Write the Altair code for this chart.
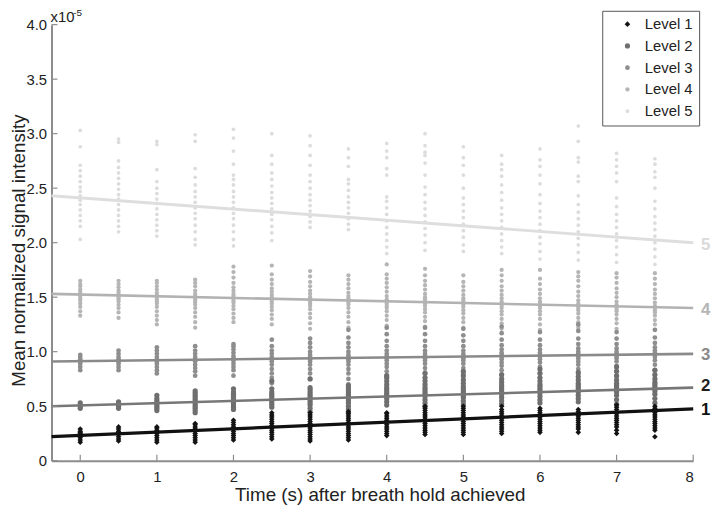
import altair as alt
import pandas as pd

# time points (s)
times = [0.0, 0.5, 1.0, 1.5, 2.0, 2.5, 3.0, 3.5, 4.0, 4.5, 5.0, 5.5, 6.0, 6.5, 7.0, 7.5]

# mean normalized signal intensity (x1e-5), one list per time point
level1 = [
    [0.17, 0.19, 0.21, 0.22, 0.23, 0.24, 0.25, 0.26, 0.27, 0.29],
    [0.18, 0.20, 0.22, 0.24, 0.25, 0.26, 0.27, 0.29, 0.31],
    [0.17, 0.19, 0.21, 0.23, 0.25, 0.26, 0.27, 0.28, 0.30, 0.31],
    [0.17, 0.19, 0.21, 0.23, 0.25, 0.27, 0.28, 0.29, 0.31, 0.33, 0.34],
    [0.19, 0.21, 0.23, 0.25, 0.27, 0.29, 0.30, 0.31, 0.33, 0.35, 0.37],
    [0.20, 0.22, 0.24, 0.26, 0.28, 0.30, 0.31, 0.32, 0.34, 0.36, 0.38, 0.40, 0.42, 0.44],
    [0.18, 0.20, 0.22, 0.24, 0.26, 0.28, 0.30, 0.32, 0.33, 0.34, 0.36, 0.38, 0.40, 0.42, 0.44],
    [0.19, 0.21, 0.23, 0.25, 0.27, 0.29, 0.31, 0.33, 0.34, 0.35, 0.37, 0.39, 0.41, 0.43, 0.45],
    [0.23, 0.25, 0.27, 0.29, 0.31, 0.33, 0.35, 0.36, 0.37, 0.39, 0.41, 0.43, 0.44],
    [0.24, 0.26, 0.28, 0.30, 0.32, 0.34, 0.36, 0.37, 0.38, 0.40, 0.42, 0.44, 0.46, 0.48, 0.50],
    [0.24, 0.26, 0.28, 0.30, 0.32, 0.34, 0.36, 0.38, 0.39, 0.40, 0.42, 0.44, 0.46, 0.48, 0.50],
    [0.25, 0.27, 0.29, 0.31, 0.33, 0.35, 0.37, 0.39, 0.40, 0.41, 0.43, 0.45, 0.47, 0.50],
    [0.26, 0.28, 0.30, 0.32, 0.34, 0.36, 0.38, 0.40, 0.41, 0.42, 0.44, 0.46, 0.48],
    [0.26, 0.29, 0.31, 0.33, 0.35, 0.37, 0.39, 0.41, 0.42, 0.43, 0.45, 0.47],
    [0.25, 0.28, 0.31, 0.33, 0.35, 0.37, 0.39, 0.41, 0.43, 0.44, 0.45, 0.47, 0.49, 0.51],
    [0.22, 0.28, 0.30, 0.32, 0.34, 0.36, 0.38, 0.40, 0.42, 0.44, 0.45, 0.46, 0.48, 0.50],
]
level2 = [
    [0.48, 0.50, 0.51, 0.53],
    [0.48, 0.50, 0.51, 0.52, 0.54],
    [0.46, 0.48, 0.50, 0.52, 0.53, 0.55, 0.57, 0.60],
    [0.44, 0.46, 0.48, 0.50, 0.52, 0.54, 0.56, 0.58, 0.60, 0.62, 0.64],
    [0.47, 0.49, 0.51, 0.53, 0.55, 0.57, 0.59, 0.61, 0.63, 0.66],
    [0.49, 0.51, 0.53, 0.55, 0.57, 0.59, 0.61, 0.63, 0.66, 0.73],
    [0.45, 0.48, 0.51, 0.53, 0.55, 0.57, 0.59, 0.61, 0.63, 0.65, 0.67, 0.75],
    [0.44, 0.47, 0.50, 0.53, 0.55, 0.57, 0.59, 0.61, 0.63, 0.65, 0.67, 0.69],
    [0.51, 0.54, 0.57, 0.59, 0.61, 0.63, 0.65, 0.67, 0.70, 0.73, 0.76, 0.78],
    [0.50, 0.53, 0.56, 0.59, 0.61, 0.63, 0.65, 0.67, 0.70, 0.73, 0.76, 0.80],
    [0.52, 0.55, 0.58, 0.60, 0.62, 0.64, 0.66, 0.68, 0.71, 0.74, 0.78, 0.82],
    [0.52, 0.55, 0.58, 0.61, 0.63, 0.65, 0.67, 0.69, 0.72, 0.75, 0.79],
    [0.53, 0.56, 0.59, 0.62, 0.64, 0.66, 0.68, 0.70, 0.73, 0.76, 0.80, 0.84],
    [0.54, 0.57, 0.60, 0.63, 0.65, 0.67, 0.69, 0.71, 0.74, 0.77, 0.81],
    [0.52, 0.56, 0.60, 0.63, 0.65, 0.67, 0.69, 0.71, 0.74, 0.78, 0.82, 0.86],
    [0.53, 0.57, 0.61, 0.64, 0.66, 0.68, 0.70, 0.72, 0.75, 0.79, 0.83],
]
level3 = [
    [0.83, 0.86, 0.89, 0.91, 0.93, 0.95, 0.97],
    [0.83, 0.86, 0.89, 0.91, 0.93, 0.95, 0.98, 1.01],
    [0.80, 0.83, 0.86, 0.89, 0.91, 0.93, 0.95, 0.98, 1.01, 1.04],
    [0.78, 0.82, 0.85, 0.88, 0.91, 0.93, 0.95, 0.98, 1.01, 1.05],
    [0.78, 0.83, 0.86, 0.89, 0.92, 0.94, 0.96, 0.99, 1.02, 1.05, 1.07],
    [0.71, 0.76, 0.80, 0.84, 0.88, 0.91, 0.93, 0.95, 0.98, 1.01, 1.05, 1.11],
    [0.75, 0.80, 0.84, 0.88, 0.91, 0.93, 0.95, 0.97, 1.00, 1.04, 1.08, 1.12],
    [0.70, 0.75, 0.80, 0.84, 0.88, 0.91, 0.93, 0.95, 0.97, 1.00, 1.04, 1.08, 1.13, 1.20],
    [0.78, 0.82, 0.86, 0.89, 0.92, 0.94, 0.96, 0.98, 1.01, 1.05, 1.10, 1.16, 1.22],
    [0.76, 0.81, 0.85, 0.89, 0.92, 0.94, 0.96, 0.98, 1.01, 1.05, 1.10, 1.16, 1.22],
    [0.75, 0.80, 0.85, 0.89, 0.92, 0.94, 0.96, 0.98, 1.01, 1.05, 1.10, 1.15, 1.21],
    [0.78, 0.83, 0.87, 0.90, 0.93, 0.95, 0.97, 0.99, 1.02, 1.06, 1.11, 1.17, 1.23],
    [0.76, 0.81, 0.86, 0.90, 0.93, 0.95, 0.97, 0.99, 1.02, 1.06, 1.11, 1.18],
    [0.79, 0.84, 0.88, 0.91, 0.94, 0.96, 0.98, 1.00, 1.03, 1.07, 1.12, 1.19, 1.25],
    [0.77, 0.82, 0.87, 0.91, 0.94, 0.96, 0.98, 1.00, 1.03, 1.07, 1.12, 1.18],
    [0.78, 0.83, 0.88, 0.92, 0.95, 0.97, 0.99, 1.01, 1.04, 1.08, 1.13, 1.20],
]
level4 = [
    [1.33, 1.37, 1.41, 1.44, 1.47, 1.49, 1.51, 1.53, 1.55, 1.57, 1.60, 1.62, 1.65],
    [1.31, 1.36, 1.40, 1.43, 1.46, 1.48, 1.50, 1.52, 1.54, 1.56, 1.59, 1.62, 1.65],
    [1.25, 1.29, 1.33, 1.37, 1.41, 1.44, 1.46, 1.48, 1.50, 1.52, 1.54, 1.57, 1.60, 1.63, 1.65],
    [1.22, 1.27, 1.32, 1.36, 1.40, 1.43, 1.45, 1.47, 1.49, 1.51, 1.53, 1.56, 1.60, 1.63, 1.66],
    [1.27, 1.31, 1.35, 1.39, 1.42, 1.45, 1.47, 1.49, 1.51, 1.53, 1.56, 1.59, 1.63, 1.68, 1.73, 1.78],
    [1.25, 1.30, 1.34, 1.38, 1.41, 1.44, 1.46, 1.48, 1.50, 1.52, 1.55, 1.58, 1.62, 1.66, 1.71, 1.79],
    [1.21, 1.26, 1.31, 1.35, 1.39, 1.42, 1.44, 1.46, 1.48, 1.50, 1.53, 1.56, 1.60, 1.64, 1.69, 1.74],
    [1.22, 1.27, 1.32, 1.36, 1.40, 1.43, 1.45, 1.47, 1.49, 1.51, 1.54, 1.58, 1.62, 1.66, 1.70],
    [1.24, 1.29, 1.33, 1.37, 1.40, 1.42, 1.44, 1.46, 1.48, 1.51, 1.55, 1.59, 1.63, 1.67, 1.71, 1.80],
    [1.23, 1.28, 1.32, 1.36, 1.39, 1.42, 1.44, 1.46, 1.48, 1.50, 1.53, 1.57, 1.61, 1.65, 1.70, 1.76],
    [1.22, 1.27, 1.31, 1.35, 1.38, 1.41, 1.43, 1.45, 1.47, 1.49, 1.52, 1.56, 1.60, 1.64, 1.70],
    [1.21, 1.26, 1.30, 1.34, 1.37, 1.40, 1.42, 1.44, 1.46, 1.49, 1.52, 1.56, 1.60, 1.65, 1.70, 1.75],
    [1.20, 1.25, 1.30, 1.34, 1.37, 1.40, 1.42, 1.44, 1.46, 1.49, 1.53, 1.57, 1.62, 1.67, 1.75],
    [1.22, 1.27, 1.31, 1.35, 1.38, 1.40, 1.42, 1.44, 1.47, 1.51, 1.55, 1.60, 1.65, 1.69, 1.73],
    [1.21, 1.26, 1.30, 1.34, 1.37, 1.39, 1.41, 1.43, 1.46, 1.50, 1.54, 1.58, 1.63, 1.68, 1.72],
    [1.20, 1.25, 1.29, 1.33, 1.36, 1.38, 1.40, 1.42, 1.45, 1.49, 1.53, 1.57, 1.62, 1.67, 1.72],
]
level5 = [
    [2.03, 2.15, 2.20, 2.25, 2.30, 2.35, 2.39, 2.43, 2.47, 2.51, 2.56, 2.61, 2.66, 2.71, 2.88, 3.03],
    [2.10, 2.15, 2.20, 2.25, 2.30, 2.35, 2.40, 2.44, 2.49, 2.54, 2.59, 2.64, 2.69, 2.75, 2.92, 2.95],
    [2.06, 2.11, 2.16, 2.21, 2.26, 2.31, 2.36, 2.40, 2.45, 2.50, 2.56, 2.67, 2.90, 2.93],
    [1.98, 2.03, 2.10, 2.16, 2.22, 2.27, 2.32, 2.37, 2.42, 2.47, 2.53, 2.60, 2.68, 2.93, 2.99],
    [1.97, 2.03, 2.10, 2.16, 2.22, 2.27, 2.32, 2.37, 2.42, 2.47, 2.53, 2.58, 2.62, 2.72, 2.84, 2.96, 3.04],
    [2.02, 2.09, 2.15, 2.21, 2.26, 2.31, 2.36, 2.41, 2.46, 2.52, 2.58, 2.64, 2.72, 2.80, 3.00],
    [2.14, 2.19, 2.24, 2.29, 2.34, 2.39, 2.44, 2.50, 2.56, 2.62, 2.71, 2.80, 2.89, 2.98],
    [2.12, 2.17, 2.22, 2.27, 2.32, 2.37, 2.42, 2.48, 2.54, 2.58, 2.70, 2.78, 2.86],
    [1.90, 1.96, 2.02, 2.08, 2.14, 2.20, 2.26, 2.32, 2.38, 2.42, 2.62, 2.68, 2.78, 2.84, 2.91],
    [1.93, 2.00, 2.07, 2.13, 2.19, 2.25, 2.31, 2.37, 2.44, 2.51, 2.62, 2.73, 2.80, 2.83, 2.89, 3.00],
    [1.92, 1.98, 2.05, 2.11, 2.17, 2.23, 2.29, 2.35, 2.41, 2.50, 2.62, 2.71, 2.78, 2.88],
    [1.90, 1.96, 2.02, 2.08, 2.14, 2.20, 2.26, 2.32, 2.39, 2.46, 2.53, 2.61, 2.67, 2.72, 2.80],
    [1.85, 1.92, 1.99, 2.05, 2.11, 2.17, 2.23, 2.29, 2.36, 2.44, 2.54, 2.62, 2.70, 2.76, 2.86],
    [1.84, 1.91, 1.98, 2.04, 2.10, 2.16, 2.22, 2.28, 2.35, 2.43, 2.56, 2.61, 2.74, 2.78, 2.93, 3.07],
    [1.82, 1.89, 1.96, 2.02, 2.08, 2.14, 2.20, 2.26, 2.33, 2.41, 2.56, 2.64, 2.70, 2.76, 2.82],
    [1.80, 1.87, 1.94, 2.00, 2.06, 2.12, 2.18, 2.24, 2.31, 2.38, 2.50, 2.60, 2.65, 2.72, 2.77],
]

levels = ["Level 1", "Level 2", "Level 3", "Level 4", "Level 5"]
point_colors = ["#141414", "#6f6f6f", "#8e8e8e", "#b5b5b5", "#dcdcdc"]
point_shapes = ["diamond", "circle", "circle", "circle", "circle"]
point_sizes = [32, 14, 13, 12, 10]

# fitted regression lines: value at left edge (-0.375 s) and right edge (8 s)
fit_x = [-0.375, 8.0]
fit_start = [0.22, 0.50, 0.91, 1.53, 2.43]
fit_end = [0.475, 0.67, 0.98, 1.40, 2.00]
line_colors = ["#111111", "#777777", "#8a8a8a", "#b2b2b2", "#dedede"]
line_widths = [3.2, 2.6, 2.6, 2.6, 3.0]
end_labels = ["1", "2", "3", "4", "5"]
label_colors = ["#111111", "#1e1e1e", "#8a8a8a", "#b5b5b5", "#dadada"]
label_y = [0.46, 0.68, 0.97, 1.38, 1.98]

x_ticks = [0, 1, 2, 3, 4, 5, 6, 7, 8]
y_ticks = [0, 0.5, 1.0, 1.5, 2.0, 2.5, 3.0, 3.5, 4.0]

all_levels = [level1, level2, level3, level4, level5]
rows = []
for li in range(4, -1, -1):
    for ti, t in enumerate(times):
        for v in all_levels[li][ti]:
            rows.append({"t": t, "v": v, "level": levels[li], "ord": 4 - li})
pts = pd.DataFrame(rows)

line_rows = []
for li in range(5):
    line_rows.append({"t": fit_x[0], "v": fit_start[li], "level": levels[li], "c": line_colors[li], "w": line_widths[li]})
    line_rows.append({"t": fit_x[1], "v": fit_end[li], "level": levels[li], "c": line_colors[li], "w": line_widths[li]})
lines_df = pd.DataFrame(line_rows)

lab_df = pd.DataFrame({"t": [8.0] * 5, "v": label_y, "s": end_labels, "c": label_colors})

FONT = "Liberation Sans"
W, H = 649, 441

xscale = alt.Scale(domain=[-0.375, 8], nice=False, zero=False)
yscale = alt.Scale(domain=[0, 4], nice=False, zero=False)

xaxis = alt.Axis(values=x_ticks, ticks=False, grid=False, domainColor="#8c8c8c", domainWidth=2,
                 labelFont=FONT, labelFontSize=15, labelColor="#222", labelPadding=9,
                 labelExpr="format(datum.value, 'd')",
                 title="Time (s) after breath hold achieved", titleFont=FONT, titleFontSize=19,
                 titleFontWeight="normal", titleColor="#222",
                 titleX=332, titleY=40, titleBaseline="alphabetic", titleAlign="center")
yaxis = alt.Axis(values=y_ticks, ticks=False, grid=False, domainColor="#8c8c8c", domainWidth=2,
                 labelFont=FONT, labelFontSize=15, labelColor="#222", labelPadding=5,
                 labelExpr="datum.value == 0 ? '0' : format(datum.value, '.1f')",
                 title="Mean normalized signal intensity", titleFont=FONT, titleFontSize=19,
                 titleFontWeight="normal", titleColor="#222",
                 titleX=-27, titleY=228, titleBaseline="alphabetic", titleAlign="center", titleAngle=270)


def make_legend():
    return alt.Legend(title=None, orient="none", legendX=557, legendY=-14,
                      strokeColor="#555", fillColor="white", padding=6,
                      symbolOffset=12, labelOffset=10, rowPadding=6,
                      labelFont=FONT, labelFontSize=15, labelColor="#222",
                      symbolSize=30, symbolStrokeWidth=0,
                      labelExpr="datum.label + '      '")


points = alt.Chart(pts).mark_point(filled=True, opacity=1, strokeWidth=0).encode(
    x=alt.X("t:Q", scale=xscale, axis=xaxis),
    y=alt.Y("v:Q", scale=yscale, axis=yaxis),
    color=alt.Color("level:N", scale=alt.Scale(domain=levels, range=point_colors), legend=make_legend()),
    shape=alt.Shape("level:N", scale=alt.Scale(domain=levels, range=point_shapes), legend=make_legend()),
    size=alt.Size("level:N", scale=alt.Scale(domain=levels, range=point_sizes), legend=None),
    order=alt.Order("ord:Q"),
)

lines = alt.Chart(lines_df).mark_line().encode(
    x=alt.X("t:Q", scale=xscale),
    y=alt.Y("v:Q", scale=yscale),
    detail="level:N",
    color=alt.Color("c:N", scale=None),
    strokeWidth=alt.StrokeWidth("w:Q", scale=None),
)

labels = alt.Chart(lab_df).mark_text(align="left", baseline="middle", dx=8, font=FONT,
                                     fontSize=17, fontWeight="bold", clip=False).encode(
    x=alt.X("t:Q", scale=xscale),
    y=alt.Y("v:Q", scale=yscale),
    text="s:N",
    color=alt.Color("c:N", scale=None),
)

xt = alt.Chart(pd.DataFrame({"t": x_ticks})).mark_rule(color="#8c8c8c", strokeWidth=1.2).encode(
    x=alt.X("t:Q", scale=xscale), y=alt.value(H), y2=alt.value(H - 6))
yt = alt.Chart(pd.DataFrame({"v": y_ticks})).mark_rule(color="#8c8c8c", strokeWidth=1.2).encode(
    y=alt.Y("v:Q", scale=yscale), x=alt.value(0), x2=alt.value(6))

exp_base = alt.Chart(pd.DataFrame({"s": ["x10"]})).mark_text(
    align="left", baseline="alphabetic", font=FONT, fontSize=15, color="#222").encode(
    x=alt.value(-1), y=alt.value(-3), text="s:N")
exp_sup = alt.Chart(pd.DataFrame({"s": ["-5"]})).mark_text(
    align="left", baseline="alphabetic", font=FONT, fontSize=10, color="#222").encode(
    x=alt.value(22), y=alt.value(-9), text="s:N")

chart = alt.layer(points, lines, labels, xt, yt, exp_base, exp_sup).properties(
    width=W, height=H,
    padding={"left": 44, "top": 14, "right": 18, "bottom": 43},
    autosize=alt.AutoSizeParams(type="none"),
).configure_view(stroke=None)

chart.save("out.html", embed_options={"renderer": "svg", "actions": False})
